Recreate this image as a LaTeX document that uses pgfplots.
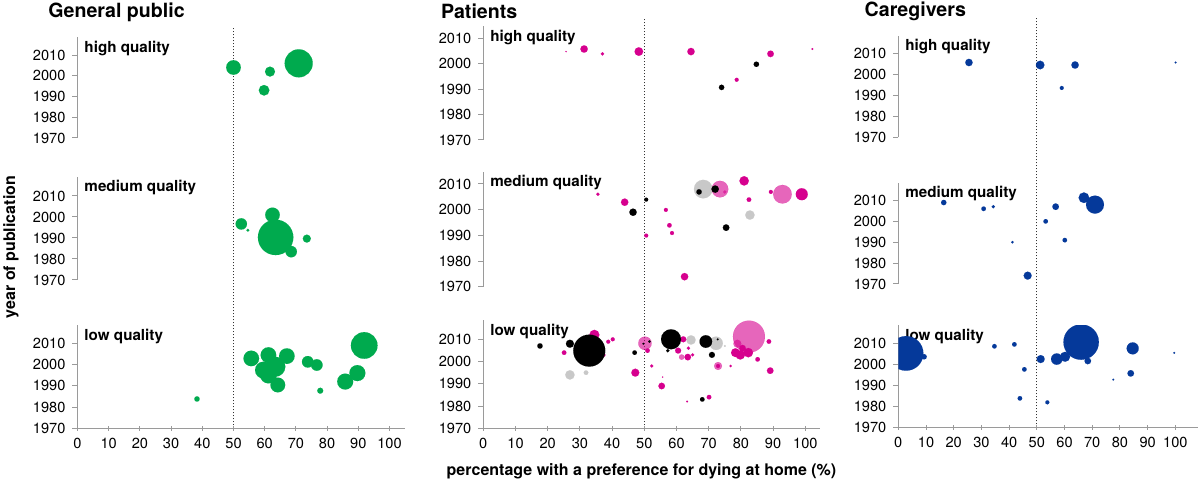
\documentclass[border=0pt]{standalone}
\usepackage{fontspec}
\setmainfont{TeX Gyre Heros}
\usepackage{pgfplots}
\pgfplotsset{compat=1.18}
\definecolor{gp}{HTML}{00AA4E}
\definecolor{pk}{HTML}{D6008E}
\definecolor{gr}{HTML}{C8C8C8}
\definecolor{cg}{HTML}{05399A}
\definecolor{axgray}{HTML}{9A9A9A}
\newcommand{\ticksize}{\fontsize{7.3pt}{8pt}\selectfont}
\newcommand{\qsize}{\fontsize{7.6pt}{8pt}\selectfont\bfseries}
\pgfplotsset{
  panel/.style={scale only axis, enlargelimits=false, anchor=south west,
    axis y line=left, clip marker paths=true,
    ymin=1970, ytick={1970,1980,...,2010},
    tick align=outside, major tick length=2.5pt,
    tick style={draw=axgray, line width=0.5pt},
    yticklabel style={font=\ticksize, text=black},
    xticklabel style={font=\ticksize, text=black},
    /pgf/number format/1000 sep={}, /pgf/number format/assume math mode=true},
  toppanel/.style={panel, axis x line=bottom, xtick=\empty,
    y axis line style={-, draw=axgray, line width=0.5pt},
    x axis line style={-, draw=none}},
  bottompanel/.style={panel, axis x line=bottom, xtick={0,10,...,100},
    axis line style={-, draw=axgray, line width=0.5pt},
    x axis line style={-}, y axis line style={-}},
  bub/.style={scatter, only marks, mark=*,
    scatter/use mapped color={draw=#1, fill=#1, line width=0.01pt},
    visualization depends on={\thisrow{r}\as\rr},
    scatter/@pre marker code/.append style={/tikz/mark size=\rr}},
  bubl/.style={scatter, only marks, mark=*,
    scatter/use mapped color={draw=#1, fill=#1, line width=0.01pt, opacity=0.6},
    visualization depends on={\thisrow{r}\as\rr},
    scatter/@pre marker code/.append style={/tikz/mark size=\rr}},
}
\newcommand{\qlabel}[1]{\node[anchor=north west, inner sep=0pt, font=\qsize, xshift=3.3pt, yshift=-1.5pt] at (rel axis cs:0,1) {#1};}
\begin{document}
\begin{tikzpicture}
\path[use as bounding box] (0,0) rectangle (600pt,240.5pt);
% reference lines at 50 %
\draw[densely dotted, line width=0.5pt, black!80] (116.75pt,26.35pt) -- (116.75pt,226.5pt);
\draw[densely dotted, line width=0.5pt, black!80] (322.15pt,26.35pt) -- (322.15pt,231.5pt);
\draw[densely dotted, line width=0.5pt, black!80] (518.4pt,26.85pt) -- (518.4pt,232pt);
% titles
\node[anchor=base west, inner sep=0pt, font=\fontsize{9.8pt}{11pt}\selectfont\bfseries] at (24pt,231.85pt) {General public};
\node[anchor=base west, inner sep=0pt, font=\fontsize{9.8pt}{11pt}\selectfont\bfseries] at (220.35pt,231pt) {Patients};
\node[anchor=base west, inner sep=0pt, font=\fontsize{9.8pt}{11pt}\selectfont\bfseries] at (432.15pt,232.15pt) {Caregivers};
\node[anchor=base, inner sep=0pt, font=\fontsize{8pt}{9pt}\selectfont\bfseries] at (320.75pt,2.75pt) {percentage with a preference for dying at home (\%)};
\node[rotate=90, anchor=center, inner sep=0pt, font=\fontsize{8pt}{9pt}\selectfont\bfseries] at (5.5pt,117pt) {year of publication};

%% ---------------- General public ----------------
\begin{axis}[toppanel, at={(38.75pt,171.5pt)}, width=163.8pt, height=50.3pt, xmin=0, xmax=105, ymax=2018.5]
\qlabel{high quality}
\addplot[bub=gp] table {
x y r
50 2004 3.65
61.7 2002 2.5
59.8 1993 2.65
70.9 2006 7.0
};
\end{axis}
\begin{axis}[toppanel, at={(38.75pt,100.5pt)}, width=163.8pt, height=51.45pt, xmin=0, xmax=105, ymax=2019]
\qlabel{medium quality}
\addplot[bub=gp] table {
x y r
52.5 1996.7 2.85
54.6 1993.7 0.75
62.5 2001 3.65
63.5 1990.3 8.85
68.5 1983.5 2.85
73.5 1989.7 2.0
};
\end{axis}
\begin{axis}[bottompanel, at={(38.75pt,26.35pt)}, width=163.8pt, height=51.5pt, xmin=0, xmax=105, ymax=2018.5]
\qlabel{low quality}
\addplot[bub=gp] table {
x y r
38.3 1983.8 1.35
55.7 2002.9 3.9
61.2 2004.5 3.9
67.1 2004 3.9
59.6 1997.4 4.2
63.4 1999 5.0
61.2 1995.1 4.2
64.2 1990.4 3.7
73.8 2001.3 2.9
76.7 1999.8 2.9
77.8 1987.7 1.5
85.8 1992 4.0
89.7 1996 4.0
91.9 2009 6.65
};
\end{axis}

%% ---------------- Patients ----------------
\begin{axis}[toppanel, at={(241.65pt,170.5pt)}, width=168.25pt, height=56.8pt, xmin=0, xmax=104.5, ymax=2014.7]
\qlabel{high quality}
\addplot[bub=pk] table {
x y r
25.7 2004.8 0.35
31.3 2005.8 1.85
37 2003.9 0.85
48.3 2004.8 2.15
64.5 2004.8 1.85
89.2 2003.9 1.65
102.2 2005.8 0.5
78.7 1993.7 1.0
};
\addplot[bub=black] table {
x y r
74 1990.7 1.35
84.8 1999.8 1.35
};
\end{axis}
\begin{axis}[toppanel, at={(241.65pt,97.15pt)}, width=168.25pt, height=57.4pt, xmin=0, xmax=104.5, ymax=2014.7]
\qlabel{medium quality}
\addplot[bub=gr] table {
x y r
68.3 2008 4.65
82.8 1997.9 2.35
};
\addplot[bubl=pk] table {
x y r
73.5 2008 4.15
75 2006.9 0.85
92.9 2006 4.65
};
\addplot[bub=pk] table {
x y r
35.6 2006 0.85
43.9 2002.9 1.85
50.6 1989.9 1.0
56.7 1999.9 1.0
57.8 1993.9 1.15
58.6 1990.9 1.0
62.5 1973.9 1.85
81 2011.2 2.35
82.5 2003.9 1.15
89.3 2006.9 1.0
98.9 2006 3.0
};
\addplot[bub=black] table {
x y r
46.5 1999 1.85
50.6 2003.9 1.0
67 2006.9 1.35
72 2008 1.85
75.4 1993 1.65
};
\end{axis}
\begin{axis}[bottompanel, at={(241.65pt,26.35pt)}, width=168.25pt, height=53.96pt, xmin=0, xmax=104.5, ymax=2018.5]
\qlabel{low quality}
\addplot[bub=gr] table {
x y r
26.9 1994 2.35
31.9 1995 1.15
64.5 2009.7 2.35
72.3 2008.2 3.35
75 2007 0.5
};
\addplot[bub=pk] table {
x y r
25.1 2004 1.15
34.5 2012 2.5
37.3 2003 1.0
38.8 2008.9 1.0
40.2 2010 1.0
47.2 1995 2.0
51 2004.9 1.15
52.3 1998 0.85
55.4 1989 1.65
55.7 1993 0.35
62.1 2010 1.5
60.5 2004.9 1.5
63.7 2006 0.85
63.5 2002 1.65
65 2003 0.85
63.3 1982 0.5
70.1 1984 1.15
76.8 1998 0.65
72.9 1998 1.0
78.3 2004 2.2
79.8 2003 2.35
82.3 2004 2.35
80.5 2006 1.65
85.2 2001 1.15
88.7 2009 1.15
89.1 1995.9 1.65
};
\addplot[bubl=pk] table {
x y r
50.2 2008.2 3.35
61.6 2002 1.35
72.9 1998 2.0
82.5 2011.2 8.0
78.9 2008 2.0
};
\addplot[bub=black] table {
x y r
17.6 2007 1.35
26.9 2008 2.0
32.9 2004.9 8.0
47 2004 1.15
49.7 2008 0.5
51.6 2009 0.65
57.3 2004.9 0.85
58.3 2010 5.0
69.1 2009 3.15
72.8 2010 0.5
71 2003 1.5
68 1983 1.15
};
\end{axis}

%% ---------------- Caregivers ----------------
\begin{axis}[toppanel, at={(449.15pt,171.85pt)}, width=149.6pt, height=50.66pt, xmin=0, xmax=108, ymax=2018.5]
\qlabel{high quality}
\addplot[bub=cg] table {
x y r
25.5 2005.8 1.85
51.2 2004.6 2.15
63.8 2004.6 1.85
59 1993.6 1.0
100.1 2005.8 0.5
};
\end{axis}
\begin{axis}[toppanel, at={(449.15pt,98.5pt)}, width=149.6pt, height=50.66pt, xmin=0, xmax=108, ymax=2018.5]
\qlabel{medium quality}
\addplot[bub=cg] table {
x y r
16.4 2009 1.35
30.8 2006 1.15
34.3 2007 0.85
41.2 1990 0.65
46.7 1974 2.0
53.2 2000 1.15
56.8 2007 1.65
60.1 1991 1.15
67 2011.3 2.65
71 2008 4.5
};
\end{axis}
\begin{axis}[bottompanel, at={(449.15pt,26.85pt)}, width=149.6pt, height=50.9pt, xmin=0, xmax=108, ymax=2018.5]
\qlabel{low quality}
\addplot[bub=cg] table {
x y r
2.8 2005.2 8.65
9.3 2003.6 1.35
34.7 2008.6 1.15
41.9 2009.5 1.15
45.5 1997.6 1.15
43.9 1983.8 1.15
53.8 1981.9 1.0
51.4 2002.5 2.0
57.2 2002.5 2.85
60.2 2003.6 2.5
66 2010.6 8.85
68.4 2001.6 1.65
84.6 2007.6 3.0
83.9 1995.7 1.65
77.6 1992.7 0.5
99.6 2005.5 0.5
};
\end{axis}
\end{tikzpicture}
\end{document}
